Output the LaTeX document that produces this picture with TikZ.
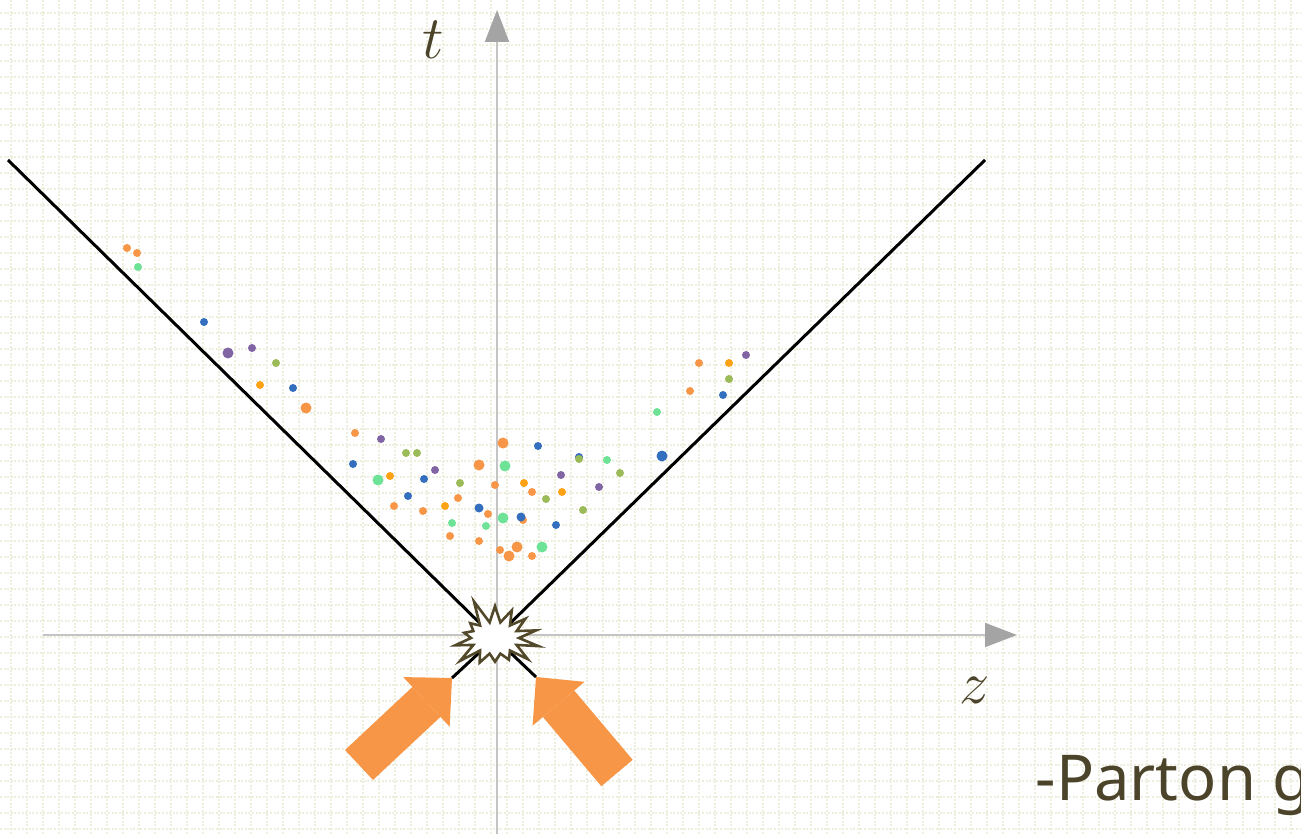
\documentclass[tikz,border=0pt]{standalone}
\usepackage{fontspec}
\newfontfamily\notefont{Noto Sans}
\usetikzlibrary{arrows.meta,shapes.symbols}

\definecolor{gridc}{RGB}{238,238,222}
\definecolor{axc}{RGB}{196,196,196}
\definecolor{axtip}{RGB}{164,164,164}
\definecolor{ink}{RGB}{76,68,42}
\definecolor{burstc}{RGB}{82,72,42}
\definecolor{dorg}{RGB}{247,150,70}
\definecolor{dgold}{RGB}{252,162,20}
\definecolor{dblue}{RGB}{52,110,190}
\definecolor{dpurp}{RGB}{128,100,164}
\definecolor{dolive}{RGB}{155,187,89}
\definecolor{dmint}{RGB}{110,226,150}

\begin{document}
\begin{tikzpicture}[x=0.1mm, y=-0.1mm,
  gd/.style={gridc, line width=0.2mm, dash pattern=on 0.2mm off 0.16mm},
  ax/.style={axc, line width=0.2mm, -{Triangle[length=3.2mm, width=2.4mm, color=axtip]}},
  cone/.style={black, line width=0.3mm},
  blast/.style={starburst, starburst points=14, starburst point height=2.6mm,
                random starburst=5, draw=burstc, line width=0.26mm, fill=white,
                minimum width=10mm, minimum height=8.4mm, inner sep=0pt},
  beam/.style={dorg, line width=4.1mm,
               -{Triangle[length=3.5mm, width=6.8mm, line width=0pt]}},
  lbl/.style={text=ink, font=\fontsize{17}{20}\selectfont}
]
\useasboundingbox (0,0) rectangle (1301,834);
\clip (0,0) rectangle (1301,834);

% dotted background grid
\foreach \i in {0,...,81} \draw[gd] (10.5+16*\i,0) -- (10.5+16*\i,834);
\foreach \j in {0,...,52} \draw[gd] (0,12.7+16*\j) -- (1301,12.7+16*\j);

% axes
\coordinate (zlo) at (43,635);
\coordinate (zhi) at (1017,635);
\coordinate (tlo) at (497,834);
\coordinate (thi) at (497,10);
\draw[ax] (zlo) -- (zhi);
\draw[ax] (tlo) -- (thi);
\node[lbl] (tlab) at (433,40) {$t$};
\node[lbl] (zlab) at (975,690) {$z$};

% light cone
\coordinate (o) at (495,638);
\coordinate (cl) at (8,160);
\coordinate (cr) at (985,160);
\draw[cone] (cl) -- (o);
\draw[cone] (cr) -- (o);

% produced particles
\foreach \x/\y/\r in {127/248/4, 137/253/4, 306/408/5.5, 699/363/4, 690/391/4,
    355/433/4, 479/465/5.5, 503/443/5.5, 532/492/4, 495/485/4, 394/506/4,
    423/511/4, 458/498/4, 488/514/4, 523/520/4, 450/536/4, 479/541/4,
    500/550/4, 509/556/5.5, 517/547/5.5, 532/556/4}
  \fill[dorg] (\x,\y) circle[radius=\r];
\foreach \x/\y/\r in {260/385/4, 729/363/4, 390/476/4, 524/483/4, 562/492/4, 445/506/4}
  \fill[dgold] (\x,\y) circle[radius=\r];
\foreach \x/\y/\r in {204/322/4, 293/388/4, 723/395/4, 662/456/5.5, 353/464/4,
    424/479/4, 538/446/4, 579/457/4, 408/496/4, 479/508/4.5, 521/517/4.5, 556/525/4}
  \fill[dblue] (\x,\y) circle[radius=\r];
\foreach \x/\y/\r in {228/353/5.5, 252/348/4, 746/355/4, 381/439/4, 435/470/4,
    561/475/4, 599/487/4}
  \fill[dpurp] (\x,\y) circle[radius=\r];
\foreach \x/\y/\r in {276/363/4, 729/379/4, 406/453/4, 417/453/4, 460/483/4,
    579/459/4, 620/473/4, 546/499/4, 583/510/4}
  \fill[dolive] (\x,\y) circle[radius=\r];
\foreach \x/\y/\r in {138/267/4, 657/412/4, 378/480/5.5, 505/466/5.5, 607/460/4,
    452/523/4, 486/526/4, 503/518/5.5, 542/547/5.5}
  \fill[dmint] (\x,\y) circle[radius=\r];

% incoming nuclei and collision
\coordinate (tipL) at (452,678);
\coordinate (tipR) at (536,677);
\coordinate (tailL) at (359,765);
\coordinate (tailR) at (617,773);
\draw[cone] (tipL) -- (o);
\draw[cone] (tipR) -- (o);
\node[blast] (bang) at (o) {};
\draw[beam] (tailL) -- (tipL);
\draw[beam] (tailR) -- (tipR);

\node[text=ink, font=\notefont\fontsize{18}{22}\selectfont, anchor=base west,
      inner sep=0pt] (note) at (1035,800) {-Parton g};
\end{tikzpicture}
\end{document}
